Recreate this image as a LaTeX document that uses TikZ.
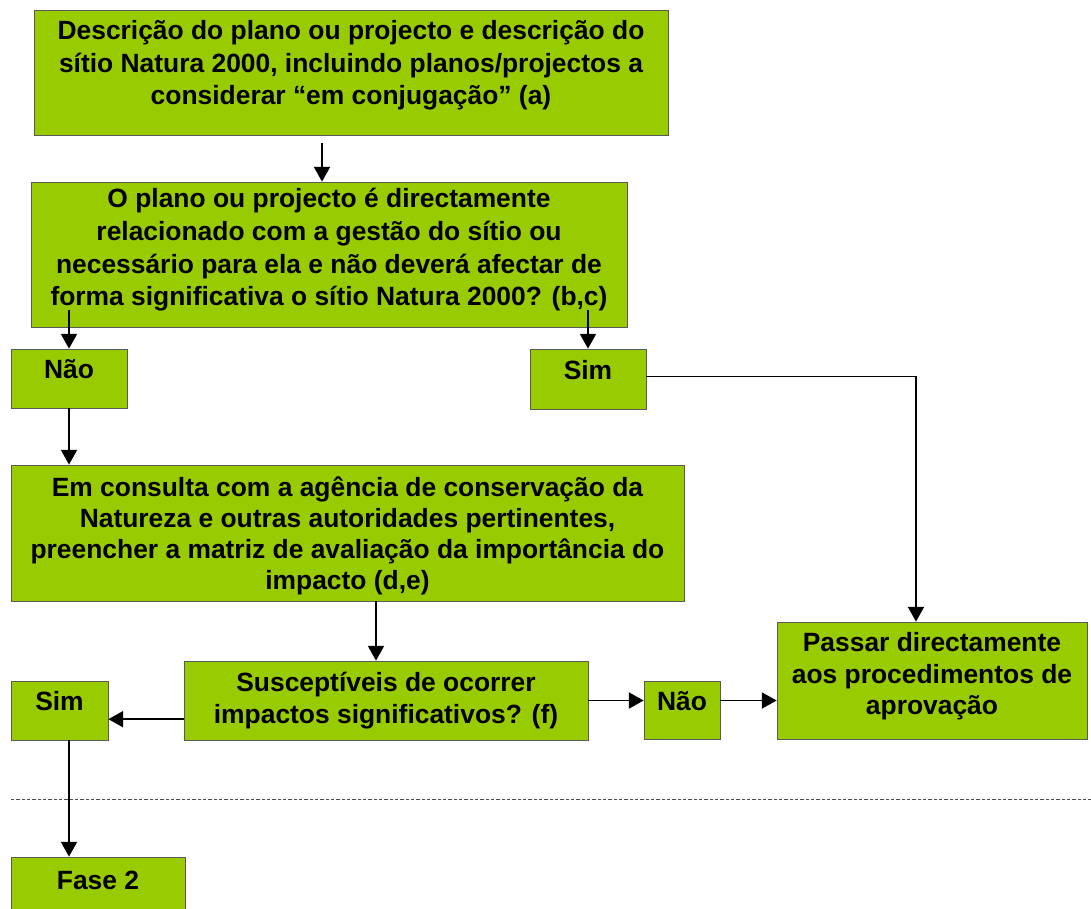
\documentclass[tikz,border=0pt]{standalone}
\usepackage{fontspec}
\setmainfont{Liberation Sans}
\usetikzlibrary{arrows.meta}
\definecolor{boxgreen}{HTML}{99CC00}
\tikzset{
	box/.style={draw=black!65, line width=0.6pt, fill=boxgreen, inner sep=0pt, align=center, font=\bfseries\fontsize{19.8}{#1}\selectfont},
	box/.default=24.5,
	arr/.style={line width=1.1pt, -{Triangle[length=11pt,width=12pt]}},
}
\begin{document}
\begin{tikzpicture}[x=0.75pt,y=-0.75pt]
	\useasboundingbox (0,0) rectangle (1091,908);
	\node[box,minimum width=475.5pt,minimum height=93.75pt,text depth=14.7pt] at (351,72.5) (desc) {Descrição do plano ou projecto e descrição do\\sítio Natura 2000, incluindo planos/projectos a\\considerar “em conjugação” (a)};
	\node[box,minimum width=447pt,minimum height=108.75pt,text depth=11pt] at (329,254.5) (q) {O plano ou projecto é directamente\\relacionado com a gestão do sítio ou\\necessário para ela e não deverá afectar de\\forma significativa o sítio Natura 2000? (b,c)};
	\node[box,minimum width=87pt,minimum height=44.25pt,text depth=14pt] at (69,378.5) (nao) {Não};
	\node[box,minimum width=87pt,minimum height=45pt,text depth=14pt] at (588,379) (sim) {Sim};
	\node[box=23.25,minimum width=504.75pt,minimum height=102pt,text depth=0pt] at (347.5,533) (cons) {Em consulta com a agência de conservação da\\Natureza e outras autoridades pertinentes,\\preencher a matriz de avaliação da importância do\\impacto (d,e)};
	\node[box,minimum width=303pt,minimum height=59.25pt] at (386,700.5) (susc) {Susceptíveis de ocorrer\\impactos significativos? (f)};
	\node[box,minimum width=72.75pt,minimum height=44.25pt,text depth=14pt] at (59.5,710.5) (simb) {Sim};
	\node[box,minimum width=57pt,minimum height=43.5pt,text depth=14pt] at (682,710) (naob) {Não};
	\node[box=23.6,minimum width=232.5pt,minimum height=87.75pt,text depth=10.2pt] at (932,680.5) (passar) {Passar directamente\\aos procedimentos de\\aprovação};
	\node[box,minimum width=130.5pt,minimum height=45pt,text depth=10pt] at (98,887) (fase) {Fase 2};
	% connectors
	\draw[arr] ([yshift=-6pt]desc.south -| 322,0) -- (322,0 |- q.north);
	\draw[arr] ([yshift=13pt]q.south -| nao.north) -- (nao.north);
	\draw[arr] ([yshift=13pt]q.south -| sim.north) -- (sim.north);
	\draw[arr] ([yshift=2pt]sim.east) -| ([xshift=-12pt]passar.north);
	\draw[arr] (nao.south) -- (nao.south |- cons.north);
	\draw[arr] ([xshift=-7.5pt]cons.south -| susc.north) -- ([xshift=-7.5pt]susc.north);
	\draw[arr] ([yshift=-14pt]susc.west) -- ([yshift=-14pt]susc.west -| simb.east);
	\draw[arr] (susc.east) -- (susc.east -| naob.west);
	\draw[arr] (susc.east -| naob.east) -- (susc.east -| passar.west);
	\draw[arr] (nao.south |- simb.south) -- (nao.south |- fase.north);
	% fase divide
	\draw[black!70, line width=0.6pt, dash pattern=on 2.5pt off 1.5pt] (11,799) -- (1091,799);
\end{tikzpicture}
\end{document}
